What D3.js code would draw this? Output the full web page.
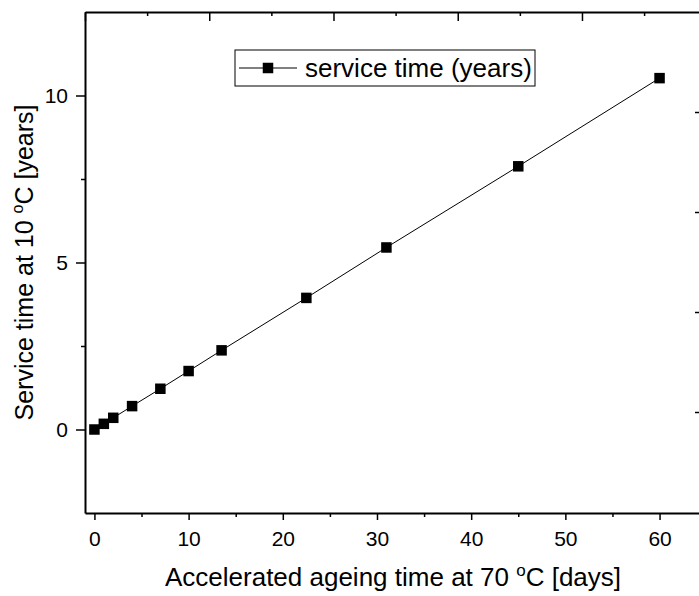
<!DOCTYPE html>
<html>
<head>
<meta charset="utf-8">
<script src="https://cdn.jsdelivr.net/npm/d3@7"></script>
<style>
  body { margin: 0; background: #fff; }
  svg { display: block; font-family: "Liberation Sans", Arial, sans-serif; }
  .axis path, .axis line { stroke: #000; }
  .axis text { fill: #000; font-size: 21px; }
</style>
</head>
<body>
<div id="chart"></div>
<script>
// Data
const ageingDays = [0, 1, 2, 4, 7, 10, 13.5, 22.5, 31, 45, 60];
const serviceYears = [0, 0.17, 0.35, 0.70, 1.22, 1.75, 2.37, 3.94, 5.45, 7.88, 10.52];
const xTicks = [0, 10, 20, 30, 40, 50, 60];
const xMinorTicks = [5, 15, 25, 35, 45, 55];
const yTicks = [0, 5, 10];
const yMinorTicks = [2.5, 7.5];
const topTicks = [0, 1, 2, 3, 4];
const topMinorTicks = [0.5, 1.5, 2.5, 3.5, 4.5];
const rightTicks = [1, 2, 3, 4];
const legendLabel = "service time (years)";

// Dimensions
const width = 699, height = 596;
const margin = {left: 85, right: -2, top: 12, bottom: 83};

const svg = d3.select("#chart").append("svg")
    .attr("width", width)
    .attr("height", height);

// Scales
const x = d3.scaleLinear()
    .domain([-1, 64.4])
    .range([margin.left, width - margin.right]);

const y = d3.scaleLinear()
    .domain([-2.5, 12.5])
    .range([height - margin.bottom, margin.top]);

// secondary axes (labels are outside the visible area)
const xTop = d3.scaleLinear()
    .domain([0, 4.958])
    .range([margin.left, width - margin.right]);

const yRight = d3.scaleLinear()
    .domain([-0.01, 5])
    .range([height - margin.bottom, margin.top]);

const plotBottom = height - margin.bottom;
const plotRight = width - margin.right;

// Bottom axis
const gx = svg.append("g")
    .attr("class", "axis")
    .attr("transform", `translate(0,${plotBottom})`)
    .call(d3.axisBottom(x).tickValues(xTicks).tickSize(7).tickSizeOuter(0).tickPadding(11));
gx.select(".domain").attr("stroke-width", 2);
gx.selectAll(".tick line").attr("stroke-width", 1.5);

svg.append("g")
    .attr("class", "axis")
    .attr("transform", `translate(0,${plotBottom})`)
    .call(d3.axisBottom(x).tickValues(xMinorTicks).tickSize(4).tickFormat(""))
    .call(g => g.select(".domain").remove())
    .selectAll(".tick line").attr("stroke-width", 1.5);

// Left axis
const gy = svg.append("g")
    .attr("class", "axis")
    .attr("transform", `translate(${margin.left},0)`)
    .call(d3.axisLeft(y).tickValues(yTicks).tickSize(9).tickSizeOuter(0).tickPadding(8));
gy.select(".domain").attr("stroke-width", 2);
gy.selectAll(".tick line").attr("stroke-width", 1.5);

svg.append("g")
    .attr("class", "axis")
    .attr("transform", `translate(${margin.left},0)`)
    .call(d3.axisLeft(y).tickValues(yMinorTicks).tickSize(4).tickFormat(""))
    .call(g => g.select(".domain").remove())
    .selectAll(".tick line").attr("stroke-width", 1.5);

// Top axis (ticks inward)
const gt = svg.append("g")
    .attr("class", "axis")
    .attr("transform", `translate(0,${margin.top})`)
    .call(d3.axisBottom(xTop).tickValues(topTicks).tickSize(9).tickSizeOuter(0).tickFormat(""));
gt.select(".domain").attr("stroke-width", 2);
gt.selectAll(".tick line").attr("stroke-width", 1.5);

svg.append("g")
    .attr("class", "axis")
    .attr("transform", `translate(0,${margin.top})`)
    .call(d3.axisBottom(xTop).tickValues(topMinorTicks).tickSize(4).tickFormat(""))
    .call(g => g.select(".domain").remove())
    .selectAll(".tick line").attr("stroke-width", 1.5);

// Right axis (ticks inward)
const gr = svg.append("g")
    .attr("class", "axis")
    .attr("transform", `translate(${plotRight},0)`)
    .call(d3.axisLeft(yRight).tickValues(rightTicks).tickSize(6).tickSizeOuter(0).tickFormat(""));
gr.select(".domain").attr("stroke-width", 2);
gr.selectAll(".tick line").attr("stroke-width", 1.5);

// Line + markers
const data = ageingDays.map((d, i) => ({x: d, y: serviceYears[i]}));

const line = d3.line()
    .x(d => x(d.x))
    .y(d => y(d.y));

svg.append("path")
    .datum(data)
    .attr("fill", "none")
    .attr("stroke", "#000")
    .attr("stroke-width", 1)
    .attr("d", line);

const ms = 10.5;
svg.selectAll(".pt")
    .data(data)
  .enter().append("rect")
    .attr("class", "pt")
    .attr("x", d => x(d.x) - ms / 2)
    .attr("y", d => y(d.y) - ms / 2)
    .attr("width", ms)
    .attr("height", ms)
    .attr("fill", "#000");

// Legend
const legend = svg.append("g").attr("transform", "translate(235,50)");
legend.append("rect")
    .attr("width", 300)
    .attr("height", 36)
    .attr("fill", "#fff")
    .attr("stroke", "#000")
    .attr("stroke-width", 1);
legend.append("line")
    .attr("x1", 4).attr("x2", 62)
    .attr("y1", 18).attr("y2", 18)
    .attr("stroke", "#000");
legend.append("rect")
    .attr("x", 33 - ms / 2).attr("y", 18 - ms / 2)
    .attr("width", ms).attr("height", ms)
    .attr("fill", "#000");
legend.append("text")
    .attr("x", 70)
    .attr("y", 27)
    .attr("font-size", 26)
    .text(legendLabel);

// Axis titles
const xTitle = svg.append("text")
    .attr("x", (margin.left + plotRight) / 2)
    .attr("y", 586)
    .attr("text-anchor", "middle")
    .attr("font-size", 26);
xTitle.append("tspan").text("Accelerated ageing time at 70 ");
xTitle.append("tspan").attr("font-size", 17).attr("dy", -10).text("o");
xTitle.append("tspan").attr("dy", 10).text("C [days]");

const yTitle = svg.append("text")
    .attr("transform", `translate(33,${(margin.top + plotBottom) / 2}) rotate(-90)`)
    .attr("text-anchor", "middle")
    .attr("font-size", 25);
yTitle.append("tspan").text("Service time at 10 ");
yTitle.append("tspan").attr("font-size", 16).attr("dy", -10).text("o");
yTitle.append("tspan").attr("dy", 10).text("C [years]");
</script>
</body>
</html>
